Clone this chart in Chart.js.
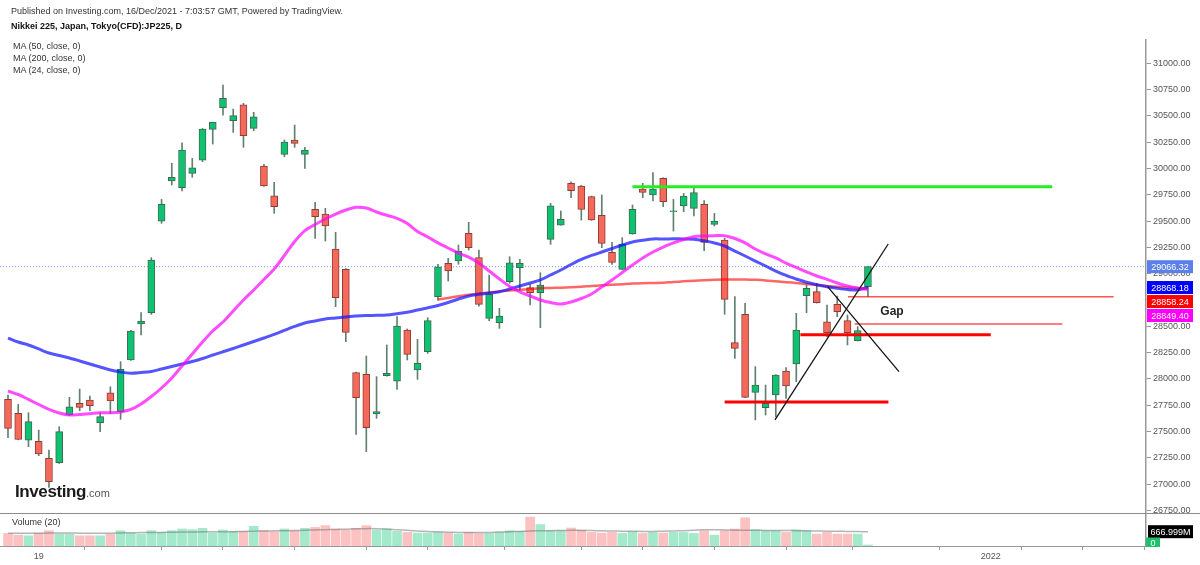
<!DOCTYPE html>
<html><head><meta charset="utf-8">
<script src="https://cdn.jsdelivr.net/npm/chart.js@4.4.1/dist/chart.umd.min.js"></script>
<style>
html,body{margin:0;padding:0;background:#fff;}
#wrap{position:relative;width:1200px;height:565px;overflow:hidden;font-family:"Liberation Sans",Arial,sans-serif;}
#wrap canvas{position:absolute;left:0;top:0;}
.t{position:absolute;white-space:nowrap;color:#333;font-size:9px;line-height:11px;}
.logo{position:absolute;left:15px;top:482px;white-space:nowrap;font-size:17px;line-height:20px;font-weight:bold;color:#1a1a1a;letter-spacing:-0.4px;}
.logo span{font-size:11px;font-weight:normal;color:#555;letter-spacing:0;}
</style></head><body>
<div id="wrap">
<canvas id="c" width="1200" height="565"></canvas>
<div class="t" style="left:11px;top:6px;">Published on Investing.com, 16/Dec/2021 - 7:03:57 GMT, Powered by TradingView.</div>
<div class="t" style="left:11px;top:21px;font-weight:bold;color:#111;">Nikkei 225, Japan, Tokyo(CFD):JP225, D</div>
<div class="t" style="left:13px;top:41px;">MA (50, close, 0)</div>
<div class="t" style="left:13px;top:53px;">MA (200, close, 0)</div>
<div class="t" style="left:13px;top:65px;">MA (24, close, 0)</div>
<div class="t" style="left:12px;top:517px;">Volume (20)</div>
<div class="logo">Investing<span>.com</span></div>
</div>
<script>
// ---------- DATA ----------
const OPEN = [27805,27672,27418,27406,27244,27203,27656,27767,27799,27583,
27868,27688,28179,28521,28629,29500,29881,29817,29954,30080,
30372,30578,30454,30606,30381,30023,29741,30134,30271,30134,
29611,29567,29234,29041,28059,28043,27666,28030,27979,28464,
28084,28258,28781,29098,29120,29383,29152,28575,28534,28924,
29057,28867,28819,29326,29462,29859,29833,29732,29554,29203,
29041,29377,29805,29748,29906,29589,29643,29621,29659,29469,
29320,28344,28613,27872,27726,27846,28074,28141,28791,28829,
28543,28708,28553,28363,28876];
const HIGH = [27846,27757,27678,27513,27323,27545,27824,27903,27837,27678,
27925,28163,28460,28629,29152,29706,30049,30245,30096,30380,
30440,30793,30565,30619,30534,30039,29868,30271,30413,30201,
29678,29621,29393,29048,28065,28217,28021,28322,28591,28474,
28375,28581,29088,29146,29272,29488,29225,28987,28670,29161,
29136,28899,29009,29668,29596,29874,29840,29738,29748,29298,
29342,29653,29859,29960,29912,29706,29763,29811,29694,29573,
29336,28781,28718,28116,27941,28040,28106,28623,28892,28908,
28702,28787,28607,28496,29070];
const LOW = [27440,27420,27355,27269,26968,27195,27650,27697,27697,27498,
27672,27615,28175,28417,28613,29478,29843,29786,29916,30065,
30232,30508,30343,30201,30359,29830,29573,30112,30201,30001,
29336,29310,28686,28353,27472,27308,27624,28025,27900,28179,
27995,28242,28749,28930,29089,29225,28692,28553,28480,28908,
28844,28702,28486,29279,29460,29722,29510,29505,29247,29089,
29035,29375,29722,29691,29637,29405,29589,29548,29218,29453,
28613,28195,27820,27609,27656,27640,27815,27973,28629,28720,
28401,28591,28322,28360,28781];
const CLOSE = [27529,27425,27593,27285,27022,27498,27735,27729,27745,27640,
27789,28090,28455,28550,29130,29659,29916,30175,30007,30375,
30438,30667,30502,30312,30492,29833,29637,30251,30239,30175,
29542,29453,28772,28442,27821,27536,27688,28052,28502,28233,
28147,28553,29066,29025,29215,29247,28708,28803,28597,29104,
29098,28819,28892,29646,29516,29789,29611,29510,29288,29107,
29279,29611,29773,29805,29684,29595,29738,29770,29298,29500,
28756,28290,27824,27941,27767,28036,27932,28464,28860,28724,
28439,28638,28439,28458,29066.32];
// volume in millions
const VOLUME = [586,507,476,602,713,555,555,476,476,476,
555,713,602,555,713,634,713,793,761,824,
602,745,682,682,919,713,666,793,713,824,
872,951,793,745,824,951,745,793,682,634,
602,602,634,602,555,634,586,586,634,713,
682,1347,999,713,713,840,745,634,602,634,
586,666,586,634,602,634,634,586,713,507,
713,793,1316,761,713,713,634,761,713,555,
634,555,555,555,0];
const VOL_MA = [600,598,596,598,602,604,603,600,598,597,
600,612,620,626,630,634,640,648,655,660,
662,666,670,676,690,700,708,714,720,735,
748,760,770,785,800,810,808,795,760,730,
700,680,660,645,635,630,630,635,650,665,
680,700,710,715,725,730,728,720,710,700,
690,685,682,682,690,700,715,735,755,760,
750,740,735,730,728,725,720,715,710,700,
690,685,680,672,666.999];
const MA50 = [28388,28350,28322,28284,28246,28222,28198,28170,28141,28113,
28084,28065,28053,28060,28070,28094,28117,28141,28165,28193,
28227,28258,28288,28322,28355,28388,28422,28460,28498,28531,
28550,28569,28578,28588,28597,28602,28604,28607,28619,28633,
28654,28675,28697,28726,28759,28788,28804,28816,28828,28854,
28883,28911,28940,28987,29035,29087,29135,29173,29206,29239,
29272,29301,29317,29330,29330,29331,29330,29327,29312,29292,
29263,29215,29168,29120,29073,29025,28983,28949,28918,28895,
28876,28861,28849,28845,28868.18];
const MA200 = [null,null,null,null,null,null,null,null,null,null,
null,null,null,null,null,null,null,null,null,null,
null,null,null,null,null,null,null,null,null,null,
null,null,null,null,null,null,null,null,null,null,
null,null,28754,28769,28785,28799,28811,28821,28830,28840,
28847,28854,28861,28864,28867,28870,28875,28883,28889,28894,
28900,28906,28909,28911,28913,28921,28927,28933,28937,28942,
28945,28945,28944,28941,28936,28927,28919,28911,28902,28892,
28883,28875,28868,28862,28858.24];
const MA24 = [27884,27851,27804,27756,27709,27675,27656,27661,27669,27678,
27678,27685,27709,27761,27832,27913,28008,28122,28236,28350,
28455,28540,28645,28750,28845,28944,29044,29173,29306,29410,
29467,29520,29567,29605,29631,29624,29586,29555,29526,29477,
29401,29349,29292,29244,29196,29158,29101,29025,28949,28878,
28826,28788,28750,28725,28712,28731,28764,28807,28873,28940,
29011,29082,29149,29206,29253,29292,29325,29351,29358,29361,
29361,29334,29292,29234,29187,29149,29101,29059,29016,28978,
28946,28911,28883,28864,28849.40];

const X_TICKS = [3,12,18,24,32,38,44,53,59,65,73,79,86,96,102,108];
const X_TICK_LABELS = ['19','','','','','','','','','','','','','2022','',''];
const Y_TICKS = [26750,27000,27250,27500,27750,28000,28250,28500,28750,29000,29250,29500,29750,30000,30250,30500,30750,31000];

// drawn annotations (data units: bar index, price)
const HLINE_PRICE = [29827, 28781, 28521, 28420, 27780];
const HLINE_FROM  = [61.0, 82.05, 82.7, 77.4, 70.0];
const HLINE_TO    = [102.0, 108.0, 103.0, 96.0, 86.0];
const TREND_UP    = [[74.92, 27609], [85.98, 29282]];
const TREND_DOWN  = [[80.06, 28876], [87.03, 28068]];
const GAP_TEXT = 'Gap';
const GAP_POS = [86.35, 28638];

// ---------- VIEW WINDOW ----------
const X_MIN = -0.781, X_MAX = 111.16;
const PRICE_MIN = 26410.7, PRICE_MAX = 31221.5;
const VOL_MAX = 23600, VOL_PANEL_TOP = 1553;

const FONT = '"Liberation Sans", Arial, sans-serif';
Chart.defaults.font.family = FONT;
Chart.defaults.font.size = 9;
Chart.defaults.color = '#555';

const up = i => CLOSE[i] >= OPEN[i];
const n = OPEN.length;
const last = a => a[a.length - 1];

const hlineStyles = [
  {c:'#22ee22', w:3}, {c:'rgba(255,40,40,0.8)', w:1.5}, {c:'rgba(255,40,40,0.8)', w:1.5},
  {c:'#ff0000', w:3}, {c:'#ff0000', w:3}
];

const datasets = [
  {type:'bar', data: VOLUME.map((v,i)=>({x:i,y:v})), yAxisID:'yv', grouped:false, order:20,
   barThickness:9, minBarLength:1,
   backgroundColor: c => up(c.dataIndex) ? '#a5e9cc' : '#fcc2c2'},
  {type:'line', data: VOL_MA.map((v,i)=>({x:i,y:v})), yAxisID:'yv', order:19,
   borderColor:'rgba(120,120,120,0.55)', borderWidth:1.5, pointRadius:0, tension:0.3},
  {type:'line', data:[{x:X_MIN,y:last(CLOSE)},{x:X_MAX,y:last(CLOSE)}], yAxisID:'y', order:18,
   borderColor:'#7b97f2', borderWidth:1, borderDash:[1,2], pointRadius:0},
  {type:'bar', data: LOW.map((l,i)=>({x:i,y:[l,HIGH[i]]})), yAxisID:'y', grouped:false, order:17,
   barThickness:1, backgroundColor:'#62806e'},
  {type:'bar', data: OPEN.map((o,i)=>({x:i,y:[Math.min(o,CLOSE[i]),Math.max(o,CLOSE[i])]})), yAxisID:'y',
   grouped:false, order:16, barThickness:7, minBarLength:1, borderWidth:1, borderSkipped:false,
   backgroundColor: c => up(c.dataIndex) ? '#0fc271' : '#f5695b',
   borderColor: c => up(c.dataIndex) ? '#3d6a52' : '#8e3d35'},
  {type:'line', data: MA200.map((v,i)=>({x:i,y:v})), yAxisID:'y', order:15,
   borderColor:'rgba(255,0,0,0.6)', borderWidth:2.5, pointRadius:0, tension:0.3},
  {type:'line', data: MA50.map((v,i)=>({x:i,y:v})), yAxisID:'y', order:14,
   borderColor:'rgba(20,20,255,0.72)', borderWidth:3, pointRadius:0, tension:0.3},
  {type:'line', data: MA24.map((v,i)=>({x:i,y:v})), yAxisID:'y', order:13,
   borderColor:'rgba(255,0,255,0.7)', borderWidth:3, pointRadius:0, tension:0.3},
];
HLINE_PRICE.forEach((p,k)=>{
  datasets.push({type:'line', data:[{x:HLINE_FROM[k],y:p},{x:HLINE_TO[k],y:p}], yAxisID:'y', order:5,
    borderColor:hlineStyles[k].c, borderWidth:hlineStyles[k].w, pointRadius:0});
});
[TREND_UP, TREND_DOWN].forEach(t=>{
  datasets.push({type:'line', data:t.map(p=>({x:p[0],y:p[1]})), yAxisID:'y', order:4,
    borderColor:'#111', borderWidth:1.3, pointRadius:0});
});

function box(ctx, x, yc, w, h, bg, txt){
  ctx.fillStyle = bg; ctx.fillRect(x, yc - h/2, w, h);
  ctx.fillStyle = '#fff'; ctx.textAlign='center'; ctx.textBaseline='middle';
  ctx.fillText(txt, x + w/2, yc + 0.5);
}

const overlay = {
  id:'overlay',
  afterDraw(chart){
    const {ctx, chartArea:a, scales:{x, y, yv}} = chart;
    ctx.save();
    // volume pane separator
    const sy = Math.round(yv.getPixelForValue(VOL_PANEL_TOP)) + 0.5;
    ctx.strokeStyle = '#8c8c8c'; ctx.lineWidth = 1;
    ctx.beginPath(); ctx.moveTo(0, sy); ctx.lineTo(chart.width, sy); ctx.stroke();
    // Gap label
    ctx.font = 'bold 12px ' + FONT; ctx.fillStyle = '#222';
    ctx.textAlign='center'; ctx.textBaseline='middle';
    ctx.fillText(GAP_TEXT, x.getPixelForValue(GAP_POS[0]), y.getPixelForValue(GAP_POS[1]));
    // price labels on the right axis
    ctx.font = '9px ' + FONT;
    const bx = a.right + 1, bw = 46, bh = 13;
    box(ctx, bx, y.getPixelForValue(last(CLOSE)), bw, bh, '#5b80ea', last(CLOSE).toFixed(2));
    const maLabels = [[last(MA50),'#0000ff'],[last(MA200),'#ff0000'],[last(MA24),'#ff00ff']];
    let prev = -1e9;
    maLabels.forEach(([v,c])=>{
      let p = y.getPixelForValue(v);
      p = Math.max(p, prev + 14); prev = p;
      box(ctx, bx, p, bw, bh, c, v.toFixed(2));
    });
    // volume labels
    const vm = last(VOL_MA);
    box(ctx, bx + 1, yv.getPixelForValue(vm), 45, 13, '#000', vm.toFixed(3) + 'M');
    ctx.save();
    ctx.beginPath(); ctx.rect(a.right, 0, 60, a.bottom + 1); ctx.clip();
    box(ctx, a.right, yv.getPixelForValue(last(VOLUME)) - 3, 14, 11, '#1fc16b', String(last(VOLUME)));
    ctx.restore();
    ctx.restore();
  }
};

new Chart(document.getElementById('c'), {
  type:'bar',
  data:{datasets},
  options:{
    responsive:false, animation:false, devicePixelRatio:1,
    layout:{padding:{top:40,left:0,right:0,bottom:0}},
    plugins:{legend:{display:false}, tooltip:{enabled:false}},
    scales:{
      x:{type:'linear', min:X_MIN, max:X_MAX, offset:false,
         grid:{display:true, drawOnChartArea:false, drawTicks:true, tickLength:4, color:'#999'},
         border:{display:true, color:'#999'},
         ticks:{autoSkip:false, maxRotation:0, padding:1, color:'#555',
                callback:(v)=>{const k=X_TICKS.indexOf(v); return k>=0?X_TICK_LABELS[k]:'';}},
         afterBuildTicks:s=>{s.ticks = X_TICKS.map(v=>({value:v}));},
         afterFit:s=>{s.height = 19;}},
      y:{type:'linear', position:'right', min:PRICE_MIN, max:PRICE_MAX,
         grid:{display:true, drawOnChartArea:false, drawTicks:true, tickLength:5, color:'#999'},
         border:{display:true, color:'#999', width:1.5},
         ticks:{padding:2, color:'#555', callback:v=>Number(v).toFixed(2)},
         afterBuildTicks:s=>{s.ticks = Y_TICKS.map(v=>({value:v}));},
         afterFit:s=>{s.width = 54;}},
      yv:{type:'linear', display:false, min:0, max:VOL_MAX}
    }
  },
  plugins:[overlay]
});
</script>
</body></html>
